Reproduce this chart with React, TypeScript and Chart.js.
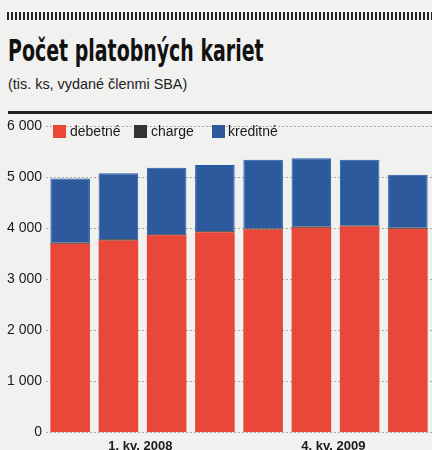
import React, { useEffect, useRef } from "react";
import { Chart, registerables } from "chart.js";

Chart.register(...registerables);

const categories = ["", "1. kv. 2008", "", "", "", "4. kv. 2009", "", ""];
const debetne = [3700, 3765, 3865, 3925, 3980, 4015, 4035, 3995];
const charge = [20, 20, 20, 20, 20, 20, 20, 20];
const kreditne = [1260, 1295, 1305, 1300, 1345, 1340, 1290, 1035];
const seriesNames = ["debetné", "charge", "kreditné"];
const seriesColors = ["#e8473a", "#333333", "#2d5a9c"];
const yTicks = [0, 1000, 2000, 3000, 4000, 5000, 6000];

const fmt = (v: number) => String(v).replace(/\B(?=(\d{3})+(?!\d))/g, " ");

export default function App() {
  const ref = useRef<HTMLCanvasElement | null>(null);

  useEffect(() => {
    document.body.style.margin = "0";
    const canvas = ref.current;
    if (!canvas) return;
    const chart = new Chart(canvas, {
      type: "bar",
      data: {
        labels: categories,
        datasets: [
          { label: seriesNames[0], data: debetne, backgroundColor: seriesColors[0], borderWidth: 0 },
          { label: seriesNames[1], data: charge, backgroundColor: seriesColors[1], borderWidth: 0 },
          { label: seriesNames[2], data: kreditne, backgroundColor: seriesColors[2], borderColor: "#1f5cb0", borderWidth: 1 },
        ],
      },
      options: {
        animation: false,
        responsive: false,
        maintainAspectRatio: false,
        layout: { padding: { left: 3, right: 0, top: 0, bottom: 0 } },
        plugins: { legend: { display: false }, title: { display: false }, tooltip: { enabled: false } },
        datasets: { bar: { categoryPercentage: 1, barPercentage: 0.82 } },
        scales: {
          x: {
            stacked: true,
            grid: { display: false, drawTicks: false },
            border: { display: false },
            ticks: {
              autoSkip: false,
              maxRotation: 0,
              minRotation: 0,
              labelOffset: 22,
              padding: 6,
              color: "#1a1a1a",
              font: { family: "'Liberation Sans', Arial, sans-serif", size: 13, weight: "bold" },
            },
          },
          y: {
            stacked: true,
            min: 0,
            max: 6000,
            afterBuildTicks: (axis: any) => {
              axis.ticks = yTicks.map((v) => ({ value: v }));
            },
            grid: { color: "#aaaaaa", lineWidth: 1, drawTicks: false },
            border: { display: false, dash: [2, 2] },
            ticks: {
              padding: 4,
              color: "#1a1a1a",
              font: { family: "'Liberation Sans', Arial, sans-serif", size: 14 },
              callback: (v: any) => fmt(Number(v)),
            },
          },
        },
      },
    });
    return () => chart.destroy();
  }, []);

  const legendItem = (i: number, boxX: number, textX: number) => (
    <React.Fragment key={i}>
      <div style={{ position: "absolute", left: boxX, top: 125, width: 13, height: 13, background: seriesColors[i] }} />
      <div style={{ position: "absolute", left: textX, top: 122, fontSize: 14, lineHeight: "18px", color: "#1a1a1a", fontFamily: "'Liberation Sans', Arial, sans-serif" }}>
        {seriesNames[i]}
      </div>
    </React.Fragment>
  );

  return (
    <div style={{ position: "relative", width: 432, height: 450, overflow: "hidden", background: "#f1f1ef" }}>
      <div style={{ position: "absolute", left: 7, top: 12, width: 425, height: 8, background: "repeating-linear-gradient(90deg, #222 0px, #222 2px, transparent 2px, transparent 4px)" }} />
      <div style={{ position: "absolute", left: 8, top: 33, whiteSpace: "nowrap", transform: "scaleX(0.68)", transformOrigin: "0 0", fontFamily: "'Liberation Sans Narrow', 'DejaVu Sans Condensed', Arial, sans-serif", fontWeight: "bold", fontSize: 31, lineHeight: "35px", color: "#111" }}>
        Počet platobných kariet
      </div>
      <div style={{ position: "absolute", left: 8, top: 74, whiteSpace: "nowrap", transform: "scaleX(0.96)", transformOrigin: "0 0", fontFamily: "'Liberation Sans', Arial, sans-serif", fontSize: 15, lineHeight: "20px", color: "#222" }}>
        (tis. ks, vydané členmi SBA)
      </div>
      <div style={{ position: "absolute", left: 8, top: 111, width: 424, height: 3, background: "#222" }} />
      <canvas ref={ref} width={432} height={346} style={{ position: "absolute", left: 0, top: 114, width: 432, height: 346 }} />
      {legendItem(0, 53, 70)}
      {legendItem(1, 134, 151)}
      {legendItem(2, 212, 228)}
    </div>
  );
}
